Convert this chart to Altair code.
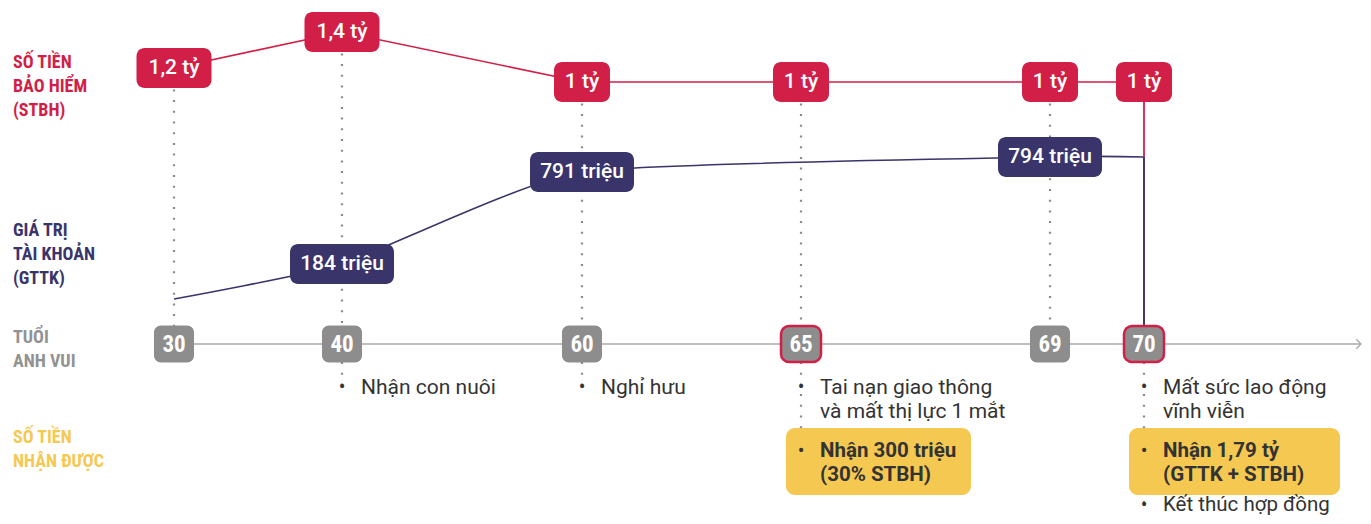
import altair as alt
import pandas as pd

# ---------------- data ----------------
ages = [30, 40, 60, 65, 69, 70]
stbh_values = [1.2, 1.4, 1.0, 1.0, 1.0, 1.0]
stbh_labels = ["1,2 tỷ", "1,4 tỷ", "1 tỷ", "1 tỷ", "1 tỷ", "1 tỷ"]

gttk_ages = [30, 40, 60, 69, 70]
gttk_values = [0, 184, 791, 794, 794]
gttk_labels = ["", "184 triệu", "791 triệu", "794 triệu", ""]

highlight_ages = [65, 70]
contract_end_age = 70

event_ages = [40, 60, 65, 70]
event_texts = ["Nhận con nuôi", "Nghỉ hưu",
               "Tai nạn giao thông\nvà mất thị lực 1 mắt",
               "Mất sức lao động\nvĩnh viễn"]

payout_ages = [65, 70]
payout_texts = ["Nhận 300 triệu\n(30% STBH)", "Nhận 1,79 tỷ\n(GTTK + STBH)"]

end_ages = [70]
end_texts = ["Kết thúc hợp đồng"]

row_titles = ["SỐ TIỀN\nBẢO HIỂM\n(STBH)", "GIÁ TRỊ\nTÀI KHOẢN\n(GTTK)",
              "TUỔI\nANH VUI", "SỐ TIỀN\nNHẬN ĐƯỢC"]

# ---------------- style / layout ----------------
RED = "#d21f48"
NAVY = "#39356b"
BOXGRAY = "#8d8d8d"
LABELGRAY = "#929292"
YELLOW = "#f5c852"
DARK = "#333333"
AXIS = "#a8a8a8"
DOT = "#8a8a8a"
FONT = "Roboto"
COND = "Roboto Condensed, Liberation Sans Narrow, DejaVu Sans Condensed, Roboto"

W, H = 1355, 508
AGE_Y = 336
XS = alt.Scale(domain=ages, range=[166, 334, 574, 793, 1042, 1136], zero=False, nice=False)
STBH_S = alt.Scale(domain=[1.0, 1.2, 1.4], range=[74, 60, 24], zero=False, nice=False)
GTTK_S = alt.Scale(domain=[0, 184, 791, 794], range=[291, 256, 164, 149], zero=False, nice=False)
title_tops = [46, 214, 321, 421]
title_colors = [RED, NAVY, LABELGRAY, YELLOW]
payout_widths = [185, 211]

df_stbh = pd.DataFrame({"age": ages, "stbh": stbh_values, "label": stbh_labels})
df_gttk = pd.DataFrame({"age": gttk_ages, "gttk": gttk_values, "label": gttk_labels})
df_ages = pd.DataFrame({"age": ages})
df_events = pd.DataFrame({"age": event_ages, "text": event_texts})
df_pay = pd.DataFrame({"age": payout_ages, "text": payout_texts})
df_end = pd.DataFrame({"age": end_ages, "text": end_texts})

X = alt.X("age:Q", scale=XS, axis=None)
X2 = alt.X2("age")

layers = []

# dotted guides above the age row
layers.append(
    alt.Chart(df_stbh).transform_filter(alt.datum.age != contract_end_age)
    .mark_rule(color=DOT, strokeWidth=2.2, strokeDash=[2, 8.7])
    .encode(x=X, y=alt.Y("stbh:Q", scale=STBH_S, axis=None), y2=alt.value(AGE_Y))
)

# dotted guides below the age row
for a in event_ages:
    bottom = 379
    if a in payout_ages:
        bottom = 440
    if a in end_ages:
        bottom = 498
    layers.append(
        alt.Chart(pd.DataFrame({"age": [a]}))
        .mark_rule(color=DOT, strokeWidth=2.2, strokeDash=[2, 8.7])
        .encode(x=X, y=alt.value(AGE_Y + 18), y2=alt.value(bottom))
    )

# age axis line + arrow
layers.append(
    alt.Chart(pd.DataFrame({"age": [ages[0]]}))
    .mark_rule(color=AXIS, strokeWidth=1.5)
    .encode(x=X, x2=alt.value(W - 2), y=alt.value(AGE_Y))
)
layers.append(
    alt.Chart(pd.DataFrame({"age": [ages[0]]}))
    .mark_point(shape="M-1,-1L0,0L-1,1", filled=False, size=90, color=AXIS, strokeWidth=1.3, opacity=1)
    .encode(x=alt.value(W - 2), y=alt.value(AGE_Y))
)

# STBH line
layers.append(
    alt.Chart(df_stbh).mark_line(color=RED, strokeWidth=1.6)
    .encode(x=X, y=alt.Y("stbh:Q", scale=STBH_S, axis=None), order="age:Q")
)
# GTTK line
layers.append(
    alt.Chart(df_gttk).mark_line(color=NAVY, strokeWidth=1.6, interpolate="cardinal", tension=0.5)
    .encode(x=X, y=alt.Y("gttk:Q", scale=GTTK_S, axis=None), order="age:Q")
)

# vertical solid line at contract end
layers.append(
    alt.Chart(df_stbh).transform_filter(alt.datum.age == contract_end_age)
    .mark_rule(color=RED, strokeWidth=1.8)
    .encode(x=X, y=alt.Y("stbh:Q", scale=STBH_S, axis=None), y2=alt.value(AGE_Y))
)
layers.append(
    alt.Chart(df_gttk).transform_filter(alt.datum.age == contract_end_age)
    .mark_rule(color=NAVY, strokeWidth=1.8)
    .encode(x=X, y=alt.Y("gttk:Q", scale=GTTK_S, axis=None), y2=alt.value(AGE_Y))
)


def value_boxes(df, field, scale, labels, color):
    out = []
    for n in sorted(set(len(l) for l in labels if l)):
        w = round(9.5 * n + 18)
        out.append(
            alt.Chart(df).transform_filter(f"length(datum.label) == {n}")
            .mark_rect(color=color, cornerRadius=8, xOffset=-w / 2, x2Offset=w / 2,
                       yOffset=-20, y2Offset=20)
            .encode(x=X, x2=X2, y=alt.Y(f"{field}:Q", scale=scale, axis=None),
                    y2=alt.Y2(field))
        )
    out.append(
        alt.Chart(df).transform_filter("length(datum.label) > 0")
        .mark_text(color="white", font=FONT, fontSize=21, fontWeight=500,
                   align="center", baseline="middle")
        .encode(x=X, y=alt.Y(f"{field}:Q", scale=scale, axis=None), text="label:N")
    )
    return out


layers += value_boxes(df_stbh, "stbh", STBH_S, stbh_labels, RED)
layers += value_boxes(df_gttk, "gttk", GTTK_S, gttk_labels, NAVY)

# age boxes
layers.append(
    alt.Chart(df_ages).transform_filter({"not": alt.FieldOneOfPredicate(field="age", oneOf=highlight_ages)})
    .mark_rect(color=BOXGRAY, cornerRadius=7, xOffset=-20, x2Offset=20)
    .encode(x=X, x2=X2, y=alt.value(AGE_Y - 18.5), y2=alt.value(AGE_Y + 18.5))
)
layers.append(
    alt.Chart(df_ages).transform_filter(alt.FieldOneOfPredicate(field="age", oneOf=highlight_ages))
    .mark_rect(fill=BOXGRAY, stroke=RED, strokeWidth=2.5, cornerRadius=8, xOffset=-20, x2Offset=20)
    .encode(x=X, x2=X2, y=alt.value(AGE_Y - 18), y2=alt.value(AGE_Y + 18))
)
layers.append(
    alt.Chart(df_ages)
    .mark_text(color="white", font=COND, fontSize=23, fontWeight="bold",
               align="center", baseline="middle", dy=1)
    .encode(x=X, y=alt.value(AGE_Y), text=alt.Text("age:Q", format="d"))
)

# payout boxes
for a, w in zip(payout_ages, payout_widths):
    layers.append(
        alt.Chart(pd.DataFrame({"age": [a]}))
        .mark_rect(color=YELLOW, cornerRadius=9, xOffset=-15, x2Offset=w - 15)
        .encode(x=X, x2=X2, y=alt.value(420), y2=alt.value(487))
    )


# event texts + bullets
def text_block(df, top, size, weight, lh):
    return [
        alt.Chart(df).mark_text(color=DARK, font=FONT, fontSize=size, fontWeight=weight,
                                align="left", baseline="top", dx=19, lineBreak="\n",
                                lineHeight=lh)
        .encode(x=X, y=alt.value(top), text="text:N"),
        alt.Chart(df).mark_text(color=DARK, font=FONT, fontSize=20, align="center",
                                baseline="top")
        .encode(x=X, y=alt.value(top), text=alt.value("•")),
    ]


layers += text_block(df_events, 369, 21, "normal", 23.5)
layers += text_block(df_pay, 433, 20.5, "bold", 24)
layers += text_block(df_end, 487, 20.5, "normal", 23.5)

# row titles
for t, top, c in zip(row_titles, title_tops, title_colors):
    layers.append(
        alt.Chart(pd.DataFrame({"text": [t]}))
        .mark_text(color=c, font=COND, fontSize=18, fontWeight="bold", align="left",
                   baseline="top", lineBreak="\n", lineHeight=24)
        .encode(x=alt.value(5), y=alt.value(top), text="text:N")
    )

chart = (
    alt.layer(*layers)
    .resolve_scale(y="independent")
    .properties(width=W, height=H, padding=0, autosize=alt.AutoSizeParams(type="none"))
    .configure_view(strokeWidth=0)
)

chart.save("out.html", embed_options={"renderer": "svg", "actions": False})
